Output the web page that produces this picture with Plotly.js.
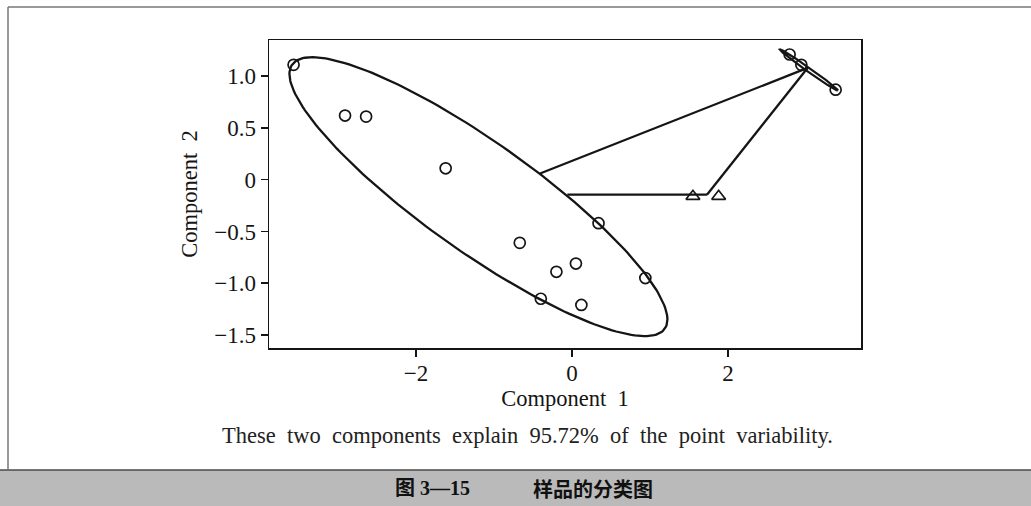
<!DOCTYPE html>
<html><head><meta charset="utf-8">
<script src="https://cdn.plot.ly/plotly-3.0.1.min.js"></script>
<style>html,body{margin:0;padding:0;background:#fff;} #chart{width:1031px;height:506px;}</style>
</head><body><div id="chart"></div>
<script>
// ---- data ----
const groupAX = [-3.57, -2.91, -2.64, -1.62, -0.67, 0.34, -0.20, 0.05, 0.94, -0.40, 0.12];
const groupAY = [1.11, 0.62, 0.61, 0.11, -0.61, -0.42, -0.89, -0.81, -0.95, -1.15, -1.21];
const groupBX = [2.79, 2.94, 3.38];
const groupBY = [1.21, 1.11, 0.87];
const groupCX = [1.55, 1.88];
const groupCY = [-0.16, -0.16];
// links between groups (start, end)
const link1X = [-0.41, 3.02], link1Y = [0.06, 1.08];
const link2X = [-0.06, 1.73], link2Y = [-0.145, -0.145];
const link3X = [1.73, 3.02],  link3Y = [-0.145, 1.08];
// ellipses: centre, cos-term vector, sin-term vector (data units)
const ellipseACenter = [-1.20, -0.164], ellipseACos = [2.423, -1.186], ellipseASin = [0, -0.640];
const ellipseBCenter = [3.038, 1.060],  ellipseBCos = [0.372, -0.198], ellipseBSin = [-0.014, -0.016];
// axes
const xRange = [-3.885, 3.705], yRange = [-1.626, 1.35];
const xTickVals = [-2, 0, 2], xTickText = ['\u22122', '0', '2'];
const yTickVals = [1, 0.5, 0, -0.5, -1, -1.5];
const yTickText = ['1.0', '0.5', '0', '\u22120.5', '\u22121.0', '\u22121.5'];
const xTitle = 'Component\u00a0\u00a01', yTitle = 'Component\u00a0\u00a02';
const noteWords = ['These', 'two', 'components', 'explain', '95.72%', 'of', 'the', 'point', 'variability.'];
const figLabel = '图 3\u201415';
const figTitle = '样品的分类图';

function ellipsePath(c, u, v) {
  const xs = [], ys = [];
  const n = 200;
  for (let i = 0; i <= n; i++) {
    const t = 2 * Math.PI * i / n;
    xs.push(c[0] + u[0] * Math.cos(t) + v[0] * Math.sin(t));
    ys.push(c[1] + u[1] * Math.cos(t) + v[1] * Math.sin(t));
  }
  return {xs, ys};
}
const eA = ellipsePath(ellipseACenter, ellipseACos, ellipseASin);
const eB = ellipsePath(ellipseBCenter, ellipseBCos, ellipseBSin);

const ink = '#151515';
const lineStyle = {color: ink, width: 2.3};
const circleMarker = {symbol: 'circle-open', size: 11, color: ink, line: {width: 1.7, color: ink}};
const traces = [
  {x: eA.xs, y: eA.ys, mode: 'lines', line: lineStyle, hoverinfo: 'skip'},
  {x: eB.xs, y: eB.ys, mode: 'lines', line: {color: ink, width: 2.2}, hoverinfo: 'skip'},
  {x: link1X, y: link1Y, mode: 'lines', line: lineStyle},
  {x: link2X, y: link2Y, mode: 'lines', line: lineStyle},
  {x: link3X, y: link3Y, mode: 'lines', line: lineStyle},
  {x: groupAX, y: groupAY, mode: 'markers', marker: circleMarker},
  {x: groupBX, y: groupBY, mode: 'markers', marker: circleMarker},
  {x: groupCX, y: groupCY, mode: 'markers', marker: {symbol: 'triangle-up-open', size: 12, color: ink, line: {width: 1.7, color: ink}}}
];

// layout geometry helpers (plot area 269..861 x 40..348 px)
const L = 269, R = 170, T = 40, B = 158, W = 1031, H = 506;
const pw = W - L - R, ph = H - T - B;
const px = v => (v - L) / pw;
const py = v => (H - B - v) / ph;

const serif = 'Liberation Serif, Times New Roman, serif';
const axisCommon = {
  showgrid: false, zeroline: false, showline: true, mirror: true,
  linecolor: ink, linewidth: 1.5, ticks: 'outside', ticklen: 7, tickwidth: 1.5, tickcolor: ink,
  tickfont: {family: serif, size: 23, color: ink}
};
const layout = {
  width: W, height: H,
  margin: {l: L, r: R, t: T, b: B, pad: 0},
  paper_bgcolor: '#fff', plot_bgcolor: '#fff',
  showlegend: false,
  xaxis: Object.assign({}, axisCommon, {
    range: xRange, tickvals: xTickVals, ticktext: xTickText, ticklabelstandoff: -3,
    title: {text: xTitle, font: {family: serif, size: 22.5, color: ink}, standoff: 4}
  }),
  yaxis: Object.assign({}, axisCommon, {
    range: yRange, tickvals: yTickVals, ticktext: yTickText,
    title: {text: yTitle, font: {family: serif, size: 22.5, color: ink}, standoff: 10}
  }),
  shapes: [
    {type: 'rect', xref: 'paper', yref: 'paper', x0: px(0), x1: px(W), y0: py(470), y1: py(H), fillcolor: '#bababa', line: {width: 0}, layer: 'below'},
    {type: 'line', xref: 'paper', yref: 'paper', x0: px(0), x1: px(W), y0: py(470), y1: py(470), line: {color: '#4a4a4a', width: 1.5}},
    {type: 'line', xref: 'paper', yref: 'paper', x0: px(8), x1: px(W), y0: py(7), y1: py(7), line: {color: '#777', width: 1.5}},
    {type: 'line', xref: 'paper', yref: 'paper', x0: px(8), x1: px(8), y0: py(7), y1: py(470), line: {color: '#777', width: 1.5}}
  ],
  annotations: [
    {xref: 'paper', yref: 'paper', x: px(527), y: py(435), text: noteWords.join('\u00a0\u00a0'), showarrow: false, xanchor: 'center', yanchor: 'middle',
     font: {family: serif, size: 22.5, color: '#222'}},
    {xref: 'paper', yref: 'paper', x: px(393), y: py(488), text: '<b>' + figLabel + '</b>', showarrow: false, xanchor: 'left', yanchor: 'middle',
     font: {family: 'Liberation Serif, Noto Sans CJK SC', size: 20, color: '#111'}},
    {xref: 'paper', yref: 'paper', x: px(655), y: py(488), text: '<b>' + figTitle + '</b>', showarrow: false, xanchor: 'right', yanchor: 'middle',
     font: {family: 'Noto Sans CJK SC', size: 20, color: '#111'}}
  ]
};
Plotly.newPlot('chart', traces, layout, {displayModeBar: false, staticPlot: true});
</script>
</body></html>
